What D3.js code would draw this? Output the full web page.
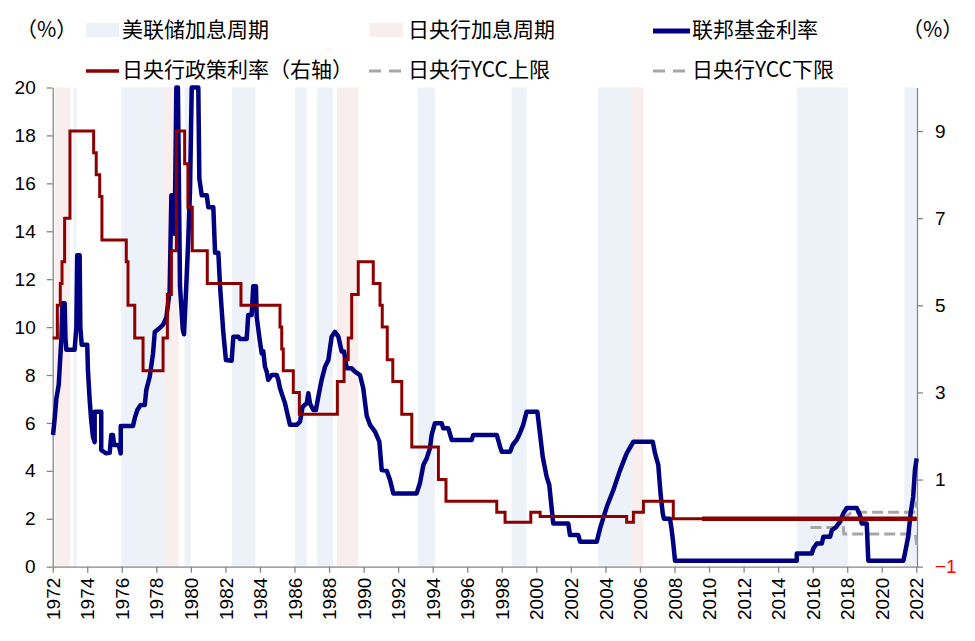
<!DOCTYPE html>
<html>
<head>
<meta charset="utf-8">
<script src="https://cdn.jsdelivr.net/npm/d3@7"></script>
<style>
  body { margin: 0; background: #fff; }
  svg { display: block; font-family: Arial, "Liberation Sans", sans-serif; }
  .cjk { font-family: "Noto Sans CJK SC", "Liberation Sans", sans-serif; }
</style>
</head>
<body>
<svg id="chart" width="975" height="641"></svg>
<script>
// shaded hiking cycles [start, end] (decimal year, as placed on the axis)
var fedBands = [[1973.2,1973.38],[1975.97,1978.39],[1979.64,1979.99],[1982.38,1983.74],[1986.03,1986.72],
  [1987.30,1988.23],[1993.15,1994.13],[1998.57,1999.44],[2003.57,2005.54],[2015.08,2018.03],[2021.31,2022.04]];
var bojBands = [[1972.13,1973.0],[1978.39,1979.28],[1988.46,1989.69],[2005.54,2006.2]];

// fed funds rate, left axis (%)
var fedFunds = [[1972.02,5.5],[1972.13,6.3],[1972.21,7.0],[1972.35,7.6],[1972.42,8.5],[1972.51,9.6],[1972.56,11.0],
  [1972.69,11.0],[1972.74,9.5],[1972.79,9.05],[1973.27,9.05],[1973.37,10.0],[1973.42,13.0],[1973.56,13.0],[1973.60,10.0],
  [1973.68,9.26],[1974.00,9.26],[1974.04,8.2],[1974.14,6.96],[1974.23,6.1],[1974.33,5.43],[1974.43,5.2],[1974.43,6.47],
  [1974.81,6.47],[1974.81,4.87],[1975.10,4.73],[1975.30,4.75],[1975.39,5.5],[1975.49,5.5],[1975.55,5.08],[1975.82,5.08],
  [1975.94,4.73],[1975.94,5.87],[1976.65,5.87],[1976.75,6.2],[1976.90,6.54],[1977.09,6.75],[1977.33,6.75],[1977.42,7.38],
  [1977.62,7.94],[1977.81,8.91],[1977.91,9.8],[1978.19,9.96],[1978.39,10.1],[1978.58,10.4],[1978.77,11.5],[1978.87,15.5],
  [1979.02,15.5],[1979.06,13.9],[1979.16,20],[1979.25,20],[1979.37,11.7],[1979.53,9.9],[1979.60,9.7],[1979.72,11.5],
  [1979.85,13.65],[1979.95,15.7],[1980.05,20],[1980.43,20],[1980.49,16.2],[1980.63,15.5],[1980.92,15.5],[1981.01,15.0],
  [1981.30,15.0],[1981.40,13.1],[1981.59,13.1],[1981.69,11.7],[1981.88,9.75],[1982.03,8.63],[1982.36,8.6],[1982.46,9.6],
  [1982.75,9.6],[1982.84,9.5],[1983.23,9.5],[1983.32,10.5],[1983.52,10.5],[1983.61,11.7],[1983.77,11.7],[1983.81,10.44],
  [1983.96,9.6],[1984.10,8.9],[1984.19,9.0],[1984.29,8.35],[1984.39,8.14],[1984.48,7.8],[1984.68,8.0],[1984.97,8.0],
  [1985.06,7.8],[1985.16,7.45],[1985.32,7.1],[1985.45,6.82],[1985.58,6.4],[1985.74,5.92],[1986.13,5.92],[1986.32,6.05],
  [1986.47,6.68],[1986.71,6.82],[1986.80,7.24],[1986.90,6.8],[1987.09,6.54],[1987.24,6.54],[1987.38,7.1],[1987.57,7.8],
  [1987.77,8.35],[1987.96,8.63],[1988.15,9.6],[1988.34,9.8],[1988.54,9.6],[1988.73,8.98],[1988.87,8.98],[1989.02,8.28],
  [1989.31,8.28],[1989.50,8.14],[1989.79,8.0],[1989.98,7.45],[1990.18,6.3],[1990.37,5.92],[1990.66,5.64],[1990.91,5.22],
  [1991.05,4.03],[1991.34,4.0],[1991.53,3.62],[1991.72,3.06],[1993.07,3.06],[1993.26,3.48],[1993.46,4.24],[1993.65,4.52],
  [1993.84,4.94],[1993.94,5.5],[1994.13,5.99],[1994.52,5.99],[1994.61,5.78],[1994.90,5.78],[1995.10,5.29],[1996.26,5.29],
  [1996.35,5.5],[1997.71,5.5],[1997.90,5.01],[1998.00,4.8],[1998.48,4.8],[1998.63,5.08],[1998.86,5.29],[1999.05,5.57],
  [1999.24,5.92],[1999.44,6.47],[2000.06,6.47],[2000.21,5.57],[2000.37,4.59],[2000.60,3.75],[2000.75,3.41],[2000.98,1.8],
  [2001.85,1.8],[2001.95,1.32],[2002.43,1.32],[2002.53,1.04],[2003.50,1.04],[2003.69,1.6],[2004.08,2.5],[2004.46,3.2],
  [2004.85,4.03],[2005.23,4.73],[2005.62,5.22],[2006.74,5.22],[2006.87,4.74],[2007.06,4.25],[2007.20,2.99],[2007.32,2.22],
  [2007.39,2.0],[2007.74,2.0],[2007.84,1.52],[2007.93,0.97],[2008.03,0.25],[2015.08,0.25],[2015.08,0.55],[2015.95,0.55],
  [2016.04,0.76],[2016.24,0.97],[2016.53,0.97],[2016.62,1.25],[2017.01,1.25],[2017.11,1.52],[2017.36,1.66],[2017.59,1.88],
  [2017.77,2.22],[2017.97,2.45],[2018.55,2.45],[2018.74,2.15],[2018.84,1.8],[2019.13,1.8],[2019.22,0.25],[2021.25,0.25],
  [2021.34,0.55],[2021.53,1.25],[2021.67,2.22],[2021.82,2.92],[2021.92,4.03],[2022.02,4.52]];

// BOJ policy rate, right axis (%), each value holds until the next date
var bojRate = [[1972.0,4.25],[1972.27,5.0],[1972.44,5.5],[1972.54,6.0],[1972.69,7.0],[1973.0,9.0],[1974.37,8.5],
  [1974.52,8.0],[1974.72,7.5],[1974.85,6.5],[1976.26,6.0],[1976.36,5.0],[1976.75,4.25],[1977.23,3.5],[1978.39,4.25],
  [1978.64,5.25],[1978.87,6.25],[1979.16,9.0],[1979.64,8.25],[1979.83,7.25],[1980.08,6.25],[1980.95,5.5],[1982.90,5.0],
  [1985.16,4.5],[1985.26,4.0],[1985.35,3.5],[1985.93,3.0],[1986.28,2.5],[1988.48,3.25],[1988.87,3.75],[1989.11,4.25],
  [1989.31,5.25],[1989.69,6.0],[1990.56,5.5],[1990.95,5.0],[1991.08,4.5],[1991.37,3.75],[1991.69,3.25],[1992.21,2.5],
  [1992.79,1.75],[1994.33,1.0],[1994.77,0.5],[1997.71,0.25],[1998.19,0.02],[1999.68,0.25],[2000.22,0.15],[2005.23,0.02],
  [2005.62,0.25],[2006.2,0.5],[2007.93,0.1],[2022.02,0.1]];

// YCC band, right axis (%)
var yccUpper = [[2015.87,0.1],[2017.78,0.1],[2018.25,0.25],[2021.95,0.25],[2022.02,0.5]];
var yccLower = [[2015.87,-0.1],[2017.78,-0.1],[2017.8,-0.25],[2021.95,-0.25],[2022.02,-0.5]];

var leftTicks = [0,2,4,6,8,10,12,14,16,18,20];
var rightTicks = [-1,1,3,5,7,9];
var yearTicks = d3.range(1972, 2023, 2);

var svg = d3.select("#chart");
var x = d3.scaleLinear().domain([1972, 2022.04]).range([52.7, 917]);
var yL = d3.scaleLinear().domain([0, 20]).range([566.7, 87.5]);
var yR = d3.scaleLinear().domain([-1, 10]).range([566.7, 87.5]);

var fedFill = "#edf1f8", bojFill = "#f9eeee";
var navy = "#000080", darkRed = "#8b0000", gray = "#a6a6a6", axisGray = "#868686";

// background bands
svg.append("g").selectAll("rect").data(fedBands).enter().append("rect")
  .attr("x", function(d) { return x(d[0]); })
  .attr("width", function(d) { return x(d[1]) - x(d[0]); })
  .attr("y", yL(20)).attr("height", yL(0) - yL(20))
  .attr("fill", fedFill);
svg.append("g").selectAll("rect").data(bojBands).enter().append("rect")
  .attr("x", function(d) { return x(d[0]); })
  .attr("width", function(d) { return x(d[1]) - x(d[0]); })
  .attr("y", yL(20)).attr("height", yL(0) - yL(20))
  .attr("fill", bojFill);

// axes
var gLeft = svg.append("g").attr("transform", "translate(" + x(1972) + ",0)")
  .call(d3.axisLeft(yL).tickValues(leftTicks).tickSize(6).tickSizeOuter(0).tickPadding(11));
var gRight = svg.append("g").attr("transform", "translate(" + x.range()[1] + ",0)")
  .call(d3.axisRight(yR).tickValues(rightTicks).tickSize(6).tickSizeOuter(0).tickPadding(12));
var gBottom = svg.append("g").attr("transform", "translate(0," + yL(0) + ")")
  .call(d3.axisBottom(x).tickValues(yearTicks).tickFormat(d3.format("d")).tickSize(6).tickSizeOuter(0));

[gLeft, gRight, gBottom].forEach(function(g) {
  g.select(".domain").attr("stroke", axisGray).attr("stroke-width", 1.3);
  g.selectAll(".tick line").attr("stroke", axisGray).attr("stroke-width", 1.3);
  g.selectAll("text").attr("font-size", 19).attr("fill", "#000")
    .attr("font-family", "Arial, 'Liberation Sans', sans-serif");
});
gRight.selectAll(".tick text").filter(function(d) { return d === -1; }).attr("fill", "#ff0000");
gBottom.selectAll(".tick text")
  .attr("transform", "rotate(-90)")
  .attr("text-anchor", "end")
  .attr("x", -11).attr("y", 0).attr("dy", "0.35em");

// lines
var lineL = d3.line().x(function(d) { return x(d[0]); }).y(function(d) { return yL(d[1]); });
var lineR = d3.line().x(function(d) { return x(d[0]); }).y(function(d) { return yR(d[1]); });
var stepR = d3.line().curve(d3.curveStepAfter).x(function(d) { return x(d[0]); }).y(function(d) { return yR(d[1]); });

svg.append("path").datum(yccUpper).attr("d", lineR)
  .attr("fill", "none").attr("stroke", gray).attr("stroke-width", 3).attr("stroke-dasharray", "11,5");
svg.append("path").datum(yccLower).attr("d", lineR)
  .attr("fill", "none").attr("stroke", gray).attr("stroke-width", 3).attr("stroke-dasharray", "11,5");

svg.append("path").datum(fedFunds).attr("d", lineL)
  .attr("fill", "none").attr("stroke", navy).attr("stroke-width", 4.5)
  .attr("stroke-linejoin", "round");

svg.append("path").datum(bojRate).attr("d", stepR)
  .attr("fill", "none").attr("stroke", darkRed).attr("stroke-width", 3);
// later part of the policy rate is drawn heavier in the original
svg.append("path").datum(bojRate.filter(function(d) { return d[0] >= 2007.93; }).map(function(d) { return [Math.max(d[0], 2009.6), d[1]]; }))
  .attr("d", stepR)
  .attr("fill", "none").attr("stroke", darkRed).attr("stroke-width", 4.5);

// legend
var legend = svg.append("g").attr("class", "cjk").attr("font-size", 21).attr("fill", "#000");
legend.append("text").attr("x", 16).attr("y", 30).attr("dy", "0.35em").text("（%）");
legend.append("text").attr("x", 902).attr("y", 30).attr("dy", "0.35em").text("（%）");

legend.append("rect").attr("x", 86).attr("y", 23).attr("width", 33).attr("height", 14).attr("fill", fedFill);
legend.append("text").attr("x", 122).attr("y", 30).attr("dy", "0.35em").text("美联储加息周期");
legend.append("rect").attr("x", 370).attr("y", 23).attr("width", 33).attr("height", 14).attr("fill", bojFill);
legend.append("text").attr("x", 408).attr("y", 30).attr("dy", "0.35em").text("日央行加息周期");
legend.append("line").attr("x1", 653).attr("x2", 690).attr("y1", 31).attr("y2", 31)
  .attr("stroke", navy).attr("stroke-width", 5);
legend.append("text").attr("x", 692).attr("y", 30).attr("dy", "0.35em").text("联邦基金利率");

legend.append("line").attr("x1", 86).attr("x2", 119).attr("y1", 71).attr("y2", 71)
  .attr("stroke", darkRed).attr("stroke-width", 3.5);
legend.append("text").attr("x", 122).attr("y", 70).attr("dy", "0.35em").text("日央行政策利率（右轴）");
legend.append("line").attr("x1", 369).attr("x2", 404).attr("y1", 71).attr("y2", 71)
  .attr("stroke", gray).attr("stroke-width", 3).attr("stroke-dasharray", "12,8");
legend.append("text").attr("x", 408).attr("y", 70).attr("dy", "0.35em").text("日央行YCC上限");
legend.append("line").attr("x1", 653).attr("x2", 690).attr("y1", 71).attr("y2", 71)
  .attr("stroke", gray).attr("stroke-width", 3).attr("stroke-dasharray", "12,8");
legend.append("text").attr("x", 692).attr("y", 70).attr("dy", "0.35em").text("日央行YCC下限");
</script>
</body>
</html>
